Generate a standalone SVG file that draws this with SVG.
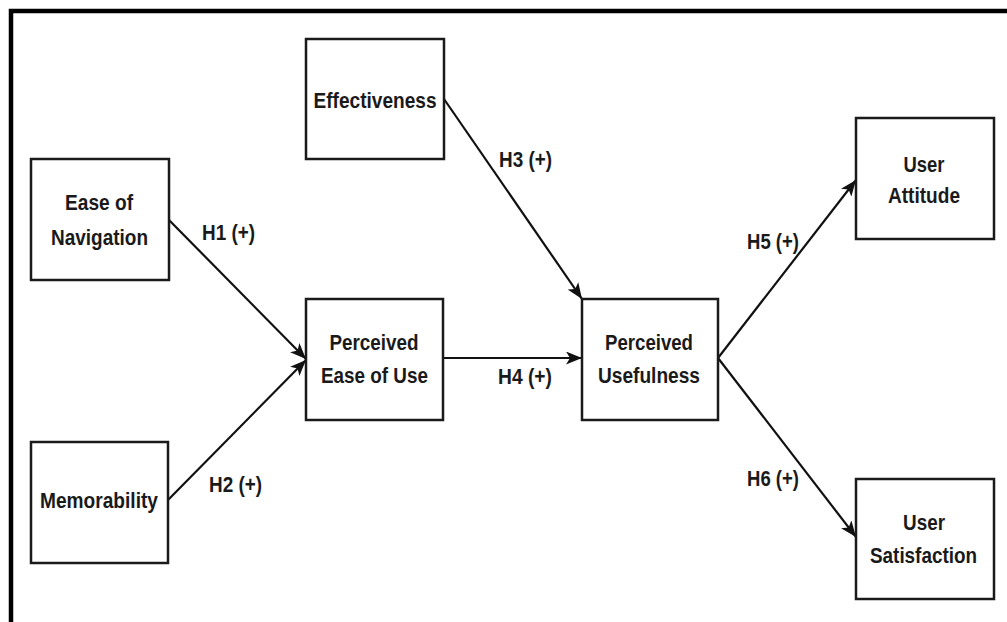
<svg xmlns="http://www.w3.org/2000/svg" width="1007" height="622" viewBox="0 0 1007 622">
<style>
.box{fill:#fff;stroke:#1a1a1a;stroke-width:2.5}
.t{font-family:"Liberation Sans",Arial,sans-serif;font-size:22px;font-weight:bold;fill:#1a1a1a;text-anchor:middle}
.l{font-family:"Liberation Sans",Arial,sans-serif;font-size:22px;font-weight:bold;fill:#1a1a1a}
.c{stroke:#111;stroke-width:2.2;fill:none;marker-end:url(#ah)}
</style>
<defs>
<marker id="ah" markerUnits="userSpaceOnUse" markerWidth="17" markerHeight="13" refX="16" refY="6.5" orient="auto">
<path d="M0,0 L16,6.5 L0,13 L4,6.5 z" fill="#111"/>
</marker>
</defs>
<rect width="1007" height="622" fill="#fff"/>
<path d="M11,622 V11 H1007" fill="none" stroke="#000" stroke-width="4.5"/>
<g id="connectors">
<line class="c" x1="169" y1="220" x2="306" y2="359"/>
<line class="c" x1="168" y1="500" x2="306" y2="360"/>
<line class="c" x1="444" y1="99" x2="582" y2="299"/>
<line class="c" x1="443" y1="358" x2="582" y2="358"/>
<line class="c" x1="718" y1="358" x2="856" y2="180"/>
<line class="c" x1="718" y1="358" x2="856" y2="537"/>
<text class="l" x="202" y="240" textLength="53" lengthAdjust="spacingAndGlyphs">H1 (+)</text>
<text class="l" x="209" y="492" textLength="53" lengthAdjust="spacingAndGlyphs">H2 (+)</text>
<text class="l" x="499" y="167" textLength="53" lengthAdjust="spacingAndGlyphs">H3 (+)</text>
<text class="l" x="498" y="384" textLength="54" lengthAdjust="spacingAndGlyphs">H4 (+)</text>
<text class="l" x="747" y="249" textLength="52" lengthAdjust="spacingAndGlyphs">H5 (+)</text>
<text class="l" x="747" y="486" textLength="52" lengthAdjust="spacingAndGlyphs">H6 (+)</text>
</g>
<g id="effectiveness">
<rect class="box" x="306" y="39" width="138" height="120"/>
<text class="t" x="375" y="108" textLength="123" lengthAdjust="spacingAndGlyphs">Effectiveness</text>
</g>
<g id="ease-of-navigation">
<rect class="box" x="31" y="159" width="138" height="121"/>
<text class="t" x="99" y="210" textLength="68" lengthAdjust="spacingAndGlyphs">Ease of</text>
<text class="t" x="99.5" y="245" textLength="97" lengthAdjust="spacingAndGlyphs">Navigation</text>
</g>
<g id="memorability">
<rect class="box" x="31" y="442" width="137" height="121"/>
<text class="t" x="99" y="508" textLength="118" lengthAdjust="spacingAndGlyphs">Memorability</text>
</g>
<g id="perceived-ease-of-use">
<rect class="box" x="306" y="299" width="137" height="121"/>
<text class="t" x="374" y="350" textLength="89" lengthAdjust="spacingAndGlyphs">Perceived</text>
<text class="t" x="374.5" y="383" textLength="107" lengthAdjust="spacingAndGlyphs">Ease of Use</text>
</g>
<g id="perceived-usefulness">
<rect class="box" x="582" y="299" width="136" height="121"/>
<text class="t" x="649" y="350" textLength="88" lengthAdjust="spacingAndGlyphs">Perceived</text>
<text class="t" x="649" y="383" textLength="102" lengthAdjust="spacingAndGlyphs">Usefulness</text>
</g>
<g id="user-attitude">
<rect class="box" x="856" y="118" width="138" height="121"/>
<text class="t" x="924" y="172" textLength="41" lengthAdjust="spacingAndGlyphs">User</text>
<text class="t" x="924" y="203" textLength="72" lengthAdjust="spacingAndGlyphs">Attitude</text>
</g>
<g id="user-satisfaction">
<rect class="box" x="856" y="479" width="138" height="120"/>
<text class="t" x="924" y="530" textLength="42" lengthAdjust="spacingAndGlyphs">User</text>
<text class="t" x="923.5" y="563" textLength="107" lengthAdjust="spacingAndGlyphs">Satisfaction</text>
</g>
</svg>
